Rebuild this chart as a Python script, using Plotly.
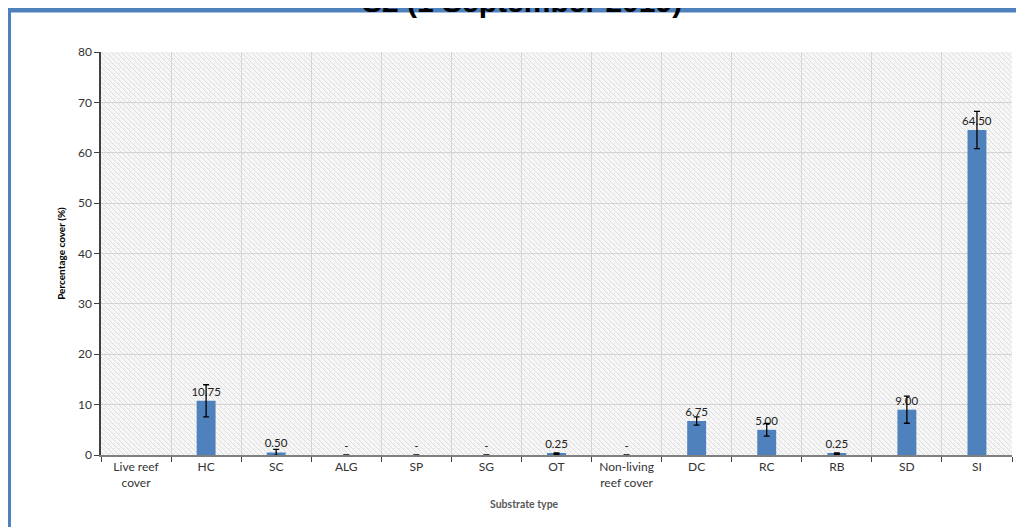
import base64
import plotly.graph_objects as go

categories = ["Live reef<br>cover", "HC", "SC", "ALG", "SP", "SG", "OT",
              "Non-living<br>reef cover", "DC", "RC", "RB", "SD", "SI"]
values = [None, 10.75, 0.50, 0.0, 0.0, 0.0, 0.25, 0.0, 6.75, 5.00, 0.25, 9.00, 64.50]
errors = [None, 3.2, 0.6, 0.0, 0.0, 0.0, 0.15, 0.0, 0.8, 1.25, 0.15, 2.7, 3.7]
y_ticks = [0, 10, 20, 30, 40, 50, 60, 70, 80]
title_text = "S2 (1 September 2019)"
y_title = "Percentage cover (%)"
x_title = "Substrate type"

labels = []
for v in values:
    if v is None:
        labels.append("")
    elif v == 0:
        labels.append("-")
    else:
        labels.append(f"{v:.2f}")

OFF = 8  # page body margin
W, H = 1024 - OFF, 527 - OFF
L, R, T, B = 101 - OFF, 12, 52 - OFF, 72
PW, PH = W - L - R, H - T - B


def px(x):
    return (x - OFF - L) / PW


def py(y):
    return (H - B - (y - OFF)) / PH


# hatched plot-area background, drawn as an svg pattern image
svg = f'''<svg xmlns="http://www.w3.org/2000/svg" width="{PW}" height="{PH}" viewBox="0 0 {PW} {PH}">
<defs><pattern id="p" width="5" height="5" patternUnits="userSpaceOnUse">
<rect width="5" height="5" fill="#f7f7f7"/>
<line x1="0" y1="0" x2="5" y2="5" stroke="#dedede" stroke-width="1"/>
<rect x="3" y="1" width="1" height="1" fill="#e4e4e4"/>
</pattern></defs>
<rect width="{PW}" height="{PH}" fill="url(#p)"/></svg>'''
src = "data:image/svg+xml;base64," + base64.b64encode(svg.encode()).decode()

fig = go.Figure()
fig.add_trace(go.Bar(
    x=categories, y=values,
    marker=dict(color="#4f81bd", line=dict(width=0)),
    width=0.27,
    text=labels, textposition="outside", cliponaxis=False,
    constraintext="none",
    textfont=dict(family="Lato, Open Sans, sans-serif", size=11.5, color="#222222"),
    error_y=dict(type="data", array=errors, visible=True, color="#000000",
                 thickness=1.3, width=3),
    showlegend=False,
))

fig.update_layout(
    width=W, height=H,
    margin=dict(l=L, r=R, t=T, b=B, pad=0),
    paper_bgcolor="white",
    plot_bgcolor="rgba(0,0,0,0)",
    font=dict(family="Lato, Open Sans, sans-serif", size=11, color="#404040"),
    images=[dict(source=src, xref="paper", yref="paper", x=0, y=1,
                 sizex=1, sizey=1, sizing="stretch", layer="below",
                 xanchor="left", yanchor="top")],
    xaxis=dict(
        type="category", tickson="boundaries", ticks="outside", ticklen=5,
        tickcolor="#404040", showline=True, linecolor="#7f7f7f", linewidth=1.5,
        showgrid=True, gridcolor="#d4d4d4", gridwidth=1,
        tickfont=dict(size=12, color="#333333"),
    ),
    yaxis=dict(
        range=[0, 80], tickvals=y_ticks, ticks="outside", ticklen=5,
        tickcolor="#404040", showline=True, linecolor="#404040", linewidth=1.5,
        showgrid=True, gridcolor="#d4d4d4", gridwidth=1, zeroline=False,
        tickfont=dict(size=12, color="#333333"),
        title=dict(text=f"<b>{y_title}</b>", font=dict(size=10, color="#000000"),
                   standoff=10),
    ),
    annotations=[
        dict(text=f"<b>{title_text}</b>", xref="paper", yref="paper",
             x=px(522), y=py(20), xanchor="center", yanchor="bottom",
             showarrow=False, font=dict(family="Liberation Sans, Arial", size=30,
                                        color="#000000")),
        dict(text=f"<b>{x_title}</b>", xref="paper", yref="paper",
             x=px(524), y=py(504), xanchor="center", yanchor="middle",
             showarrow=False, font=dict(size=10.5, color="#595959")),
    ],
    shapes=[
        dict(type="rect", xref="paper", yref="paper",
             x0=px(8.5), x1=px(1040), y0=py(10), y1=py(545),
             line=dict(color="#4f81bd", width=5), fillcolor="rgba(0,0,0,0)",
             layer="above"),
    ],
)

fig.write_html("out.html")
